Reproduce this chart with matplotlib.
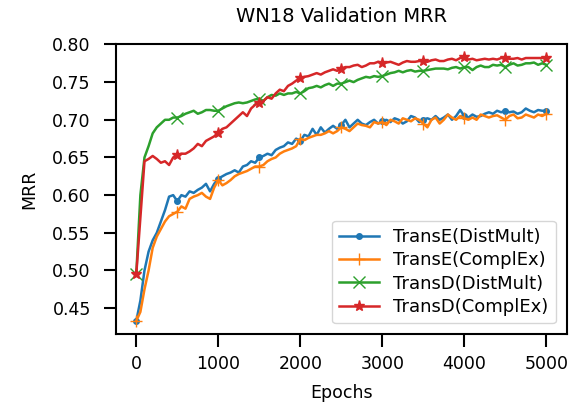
import numpy as np
import matplotlib
matplotlib.use("Agg")
import matplotlib.pyplot as plt

# validation MRR every 50 epochs
epochs = list(range(0, 5001, 50))

transe_distmult = [
    0.433, 0.460, 0.500, 0.525, 0.540, 0.550, 0.565, 0.580, 0.598, 0.600,
    0.592, 0.600, 0.598, 0.605, 0.603, 0.607, 0.610, 0.615, 0.605, 0.615,
    0.622, 0.625, 0.628, 0.630, 0.633, 0.630, 0.638, 0.640, 0.645, 0.643,
    0.650, 0.652, 0.655, 0.653, 0.660, 0.663, 0.665, 0.670, 0.668, 0.675,
    0.672, 0.680, 0.678, 0.688, 0.680, 0.690, 0.683, 0.688, 0.692, 0.688,
    0.693, 0.700, 0.690, 0.695, 0.700, 0.695, 0.693, 0.697, 0.700, 0.695,
    0.698, 0.700, 0.697, 0.702, 0.700, 0.695, 0.698, 0.705, 0.703, 0.697,
    0.700, 0.702, 0.700, 0.705, 0.700, 0.703, 0.707, 0.700, 0.705, 0.713,
    0.705, 0.703, 0.707, 0.704, 0.705, 0.708, 0.710, 0.708, 0.712, 0.710,
    0.712, 0.710, 0.711, 0.708, 0.710, 0.715, 0.712, 0.710, 0.713, 0.712,
    0.712,
]
transe_complex = [
    0.433, 0.445, 0.475, 0.500, 0.530, 0.545, 0.555, 0.565, 0.572, 0.575,
    0.578, 0.585, 0.582, 0.595, 0.598, 0.600, 0.603, 0.598, 0.595, 0.610,
    0.620, 0.613, 0.616, 0.620, 0.625, 0.628, 0.630, 0.632, 0.635, 0.638,
    0.638, 0.640, 0.645, 0.648, 0.650, 0.655, 0.658, 0.660, 0.662, 0.665,
    0.675, 0.673, 0.676, 0.678, 0.680, 0.680, 0.682, 0.685, 0.682, 0.685,
    0.690, 0.688, 0.685, 0.690, 0.695, 0.693, 0.692, 0.690, 0.697, 0.695,
    0.697, 0.693, 0.700, 0.698, 0.695, 0.702, 0.700, 0.698, 0.702, 0.700,
    0.695, 0.690, 0.700, 0.703, 0.695, 0.700, 0.707, 0.703, 0.700, 0.705,
    0.702, 0.700, 0.703, 0.700, 0.707, 0.705, 0.703, 0.705, 0.706, 0.703,
    0.700, 0.705, 0.707, 0.702, 0.703, 0.707, 0.705, 0.703, 0.707, 0.705,
    0.708,
]
transd_distmult = [
    0.495, 0.600, 0.650, 0.665, 0.682, 0.690, 0.695, 0.700, 0.700, 0.703,
    0.703, 0.705, 0.708, 0.710, 0.712, 0.708, 0.710, 0.713, 0.713, 0.712,
    0.712, 0.715, 0.718, 0.720, 0.722, 0.723, 0.722, 0.723, 0.725, 0.727,
    0.728, 0.725, 0.730, 0.733, 0.732, 0.735, 0.733, 0.735, 0.735, 0.737,
    0.735, 0.738, 0.742, 0.743, 0.745, 0.743, 0.746, 0.748, 0.745, 0.748,
    0.748, 0.750, 0.752, 0.750, 0.753, 0.755, 0.757, 0.756, 0.758, 0.757,
    0.758, 0.760, 0.762, 0.763, 0.765, 0.763, 0.765, 0.766, 0.764, 0.765,
    0.765, 0.766, 0.767, 0.768, 0.768, 0.768, 0.767, 0.769, 0.770, 0.768,
    0.770, 0.770, 0.766, 0.770, 0.772, 0.770, 0.770, 0.773, 0.772, 0.773,
    0.770, 0.773, 0.775, 0.772, 0.773, 0.775, 0.775, 0.776, 0.773, 0.775,
    0.773,
]
transd_complex = [
    0.495, 0.570, 0.645, 0.648, 0.652, 0.648, 0.643, 0.645, 0.640, 0.650,
    0.653, 0.655, 0.655, 0.658, 0.662, 0.668, 0.665, 0.672, 0.675, 0.678,
    0.683, 0.688, 0.690, 0.695, 0.700, 0.705, 0.710, 0.705, 0.715, 0.720,
    0.722, 0.725, 0.730, 0.728, 0.735, 0.740, 0.738, 0.745, 0.748, 0.752,
    0.755, 0.757, 0.758, 0.760, 0.762, 0.760, 0.763, 0.765, 0.767, 0.765,
    0.768, 0.770, 0.770, 0.772, 0.773, 0.770, 0.772, 0.775, 0.775, 0.777,
    0.775, 0.776, 0.777, 0.775, 0.773, 0.776, 0.778, 0.777, 0.777, 0.778,
    0.778, 0.777, 0.779, 0.780, 0.778, 0.778, 0.780, 0.781, 0.779, 0.782,
    0.783, 0.780, 0.781, 0.779, 0.780, 0.781, 0.780, 0.781, 0.780, 0.782,
    0.782, 0.781, 0.781, 0.782, 0.780, 0.782, 0.782, 0.782, 0.782, 0.782,
    0.782,
]

series = [
    ("TransE(DistMult)", transe_distmult, "#1f77b4", "."),
    ("TransE(ComplEx)", transe_complex, "#ff7f0e", "+"),
    ("TransD(DistMult)", transd_distmult, "#2ca02c", "x"),
    ("TransD(ComplEx)", transd_complex, "#d62728", "*"),
]

fig = plt.figure(figsize=(5.76, 4.12), dpi=100)
ax = fig.add_axes([0.201, 0.189, 0.783, 0.704])

for name, vals, color, mk in series:
    ax.plot(epochs, vals, color=color, marker=mk, markevery=10,
            markersize=8, lw=1.8, label=name)

ax.set_xticks([0, 1000, 2000, 3000, 4000, 5000])
ax.set_yticks(np.arange(0.45, 0.801, 0.05))
ax.yaxis.set_major_formatter(matplotlib.ticker.FormatStrFormatter("%.2f"))
ax.tick_params(labelsize=12.5, length=9, width=1.5)
ax.tick_params(axis="x", pad=6)
ax.tick_params(axis="y", pad=9)
for sp in ax.spines.values():
    sp.set_linewidth(1.5)

ax.set_title("WN18 Validation MRR", fontsize=14, pad=16)
ax.set_xlabel("Epochs", fontsize=12.5, labelpad=8)
ax.set_ylabel("MRR", fontsize=12.5, labelpad=10)
ax.legend(loc="lower right", fontsize=13, handlelength=2.2,
          labelspacing=0.3, borderaxespad=0.6)

fig.savefig("out.png", dpi=100)
